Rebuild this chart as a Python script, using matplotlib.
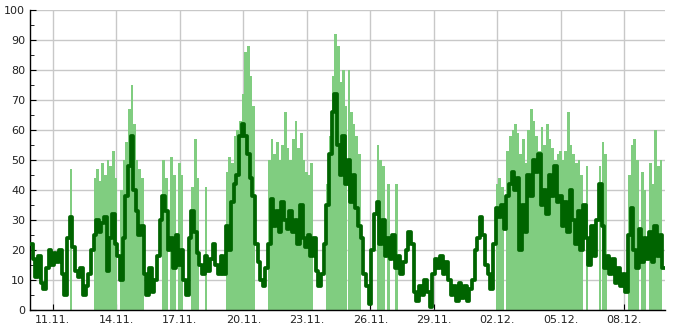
import numpy as np
import pandas as pd
import matplotlib
matplotlib.use('Agg')
import matplotlib.pyplot as plt
import matplotlib.dates as mdates
from matplotlib.ticker import MultipleLocator

# 3-hourly samples, 8 per day, starting 09.11. 22:00
start = '2023-11-09 22:00'
n_steps = 240

# dark line, one row per day
line_values = [
    22, 17, 11, 18, 9, 7, 14, 20,
    15, 19, 16, 20, 12, 5, 24, 31,
    21, 13, 11, 14, 5, 8, 12, 20,
    25, 30, 26, 29, 31, 13, 24, 32,
    22, 18, 10, 24, 38, 48, 58, 40,
    33, 25, 28, 12, 5, 14, 6, 10,
    18, 30, 38, 33, 20, 24, 14, 25,
    15, 20, 10, 5, 24, 33, 26, 19,
    15, 12, 18, 13, 17, 22, 15, 12,
    18, 12, 28, 20, 36, 42, 45, 58,
    62, 58, 52, 44, 38, 22, 16, 10,
    8, 14, 22, 37, 28, 33, 26, 36,
    30, 27, 33, 26, 30, 22, 35, 24,
    21, 25, 18, 24, 13, 8, 12, 22,
    35, 52, 66, 72, 55, 45, 58, 42,
    50, 36, 45, 34, 28, 24, 12, 8,
    2, 20, 32, 36, 22, 30, 18, 24,
    17, 25, 14, 18, 12, 16, 20, 26,
    22, 6, 3, 8, 5, 10, 6, 1,
    12, 17, 14, 18, 12, 16, 10, 5,
    8, 3, 9, 4, 8, 3, 7, 10,
    20, 24, 31, 25, 15, 12, 7, 22,
    34, 31, 35, 27, 38, 42, 46, 40,
    44, 20, 35, 26, 45, 38, 50, 46,
    52, 35, 40, 32, 45, 38, 48, 36,
    38, 28, 36, 26, 40, 30, 22, 33,
    20, 35, 24, 15, 28, 18, 30, 42,
    28, 14, 18, 12, 17, 9, 14, 8,
    12, 6, 25, 34, 20, 14, 27, 16,
    24, 17, 26, 16, 28, 18, 25, 14,
]

# light green bars, one row per day
bar_values = [
    0, 0, 0, 0, 0, 0, 0, 0,
    0, 0, 0, 0, 0, 0, 0, 47,
    0, 0, 0, 0, 0, 0, 0, 0,
    44, 47, 43, 49, 45, 50, 48, 53,
    44, 0, 40, 50, 56, 67, 75, 62,
    50, 47, 44, 0, 0, 0, 0, 0,
    0, 0, 50, 44, 0, 51, 45, 0,
    49, 45, 0, 0, 0, 41, 57, 44,
    0, 0, 41, 0, 0, 0, 0, 0,
    0, 0, 46, 51, 49, 58, 60, 63,
    72, 86, 88, 78, 68, 0, 0, 0,
    0, 0, 50, 57, 52, 56, 50, 55,
    66, 54, 50, 57, 63, 54, 59, 50,
    46, 45, 49, 0, 0, 0, 0, 0,
    42, 58, 78, 92, 88, 76, 80, 68,
    80, 66, 62, 58, 52, 0, 0, 0,
    0, 0, 0, 55, 50, 48, 0, 42,
    0, 0, 42, 0, 0, 0, 0, 0,
    0, 0, 0, 0, 0, 0, 0, 0,
    0, 0, 0, 0, 0, 0, 0, 0,
    0, 0, 0, 0, 0, 0, 0, 0,
    0, 0, 0, 0, 0, 0, 0, 0,
    42, 44, 41, 0, 53, 58, 60, 62,
    59, 52, 57, 49, 60, 67, 63, 58,
    53, 61, 55, 62, 57, 54, 50, 52,
    53, 50, 53, 66, 55, 52, 49, 50,
    45, 0, 48, 0, 0, 0, 0, 48,
    56, 52, 0, 0, 0, 0, 0, 0,
    0, 0, 45, 55, 57, 50, 0, 46,
    40, 0, 49, 42, 60, 48, 50, 0,
]

tick_dates = pd.date_range('2023-11-11', periods=10, freq='3D')

times = pd.date_range(start, periods=n_steps + 1, freq='3h')
step = 3 / 24

fig, ax = plt.subplots(figsize=(6.85, 3.3), dpi=100)
fig.subplots_adjust(left=30 / 685, right=665 / 685, bottom=20 / 330, top=320 / 330)

ax.bar(times[:-1], bar_values, width=step, align='edge', color='#80cd80',
       linewidth=0, zorder=2)
ax.step(times, line_values + [line_values[-1]], where='post', color='#006400',
        lw=2.7, zorder=3)

ax.set_xlim(times[0], times[-1])
ax.set_ylim(0, 100)
ax.yaxis.set_major_locator(MultipleLocator(10))
ax.yaxis.set_minor_locator(MultipleLocator(5))
ax.set_xticks(tick_dates)
ax.xaxis.set_major_formatter(mdates.DateFormatter('%d.%m.'))

ax.grid(True, which='major', color='#c8c8c8', lw=1)
ax.set_axisbelow(True)
for side in ('top', 'right'):
    ax.spines[side].set_visible(False)
for side in ('left', 'bottom'):
    ax.spines[side].set_color('black')
    ax.spines[side].set_linewidth(1)

ax.tick_params(which='both', direction='in', colors='black', labelsize=8,
               labelcolor='#222222')
ax.tick_params(which='major', length=4)
ax.tick_params(which='minor', length=3)

fig.savefig('out.png', dpi=100)
